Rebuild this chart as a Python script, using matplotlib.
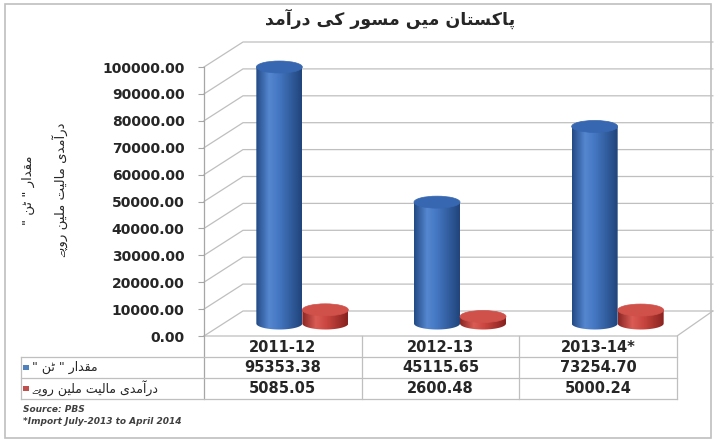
import matplotlib
matplotlib.use("Agg")
import matplotlib.pyplot as plt
from matplotlib import font_manager
from matplotlib.ft2font import FT2Font
from matplotlib.patches import Ellipse, PathPatch, Rectangle
from matplotlib.path import Path
from matplotlib.colors import LinearSegmentedColormap
from matplotlib.ticker import FormatStrFormatter
import numpy as np

# ---------------------------------------------------------------- data
categories = ["2011-12", "2012-13", "2013-14*"]
quantity_tonnes = [95353.38, 45115.65, 73254.70]
value_mn_rs = [5085.05, 2600.48, 5000.24]
y_ticks = [0, 10000, 20000, 30000, 40000, 50000, 60000, 70000, 80000, 90000, 100000]

title_text = "پاکستان میں مسور کی درآمد"
series_names = ['مقدار " ٹن "', "درآمدی مالیت ملین روپے"]
source_note = "Source: PBS"
footnote = "*Import July-2013 to April 2014"


# ------------------------------------------------ fonts for Urdu text
def families_with(codepoints):
    """Installed families whose charmap contains all given code points."""
    found = []
    for f in font_manager.fontManager.ttflist:
        if f.name in found:
            continue
        try:
            cmap = FT2Font(f.fname).get_charmap()
        except Exception:
            continue
        if all(cp in cmap for cp in codepoints):
            found.append(f.name)
    return found


bari_ye_fams = families_with([0x06D2])
bari_ye_final_fams = families_with([0x06D2, 0xFBAF])
URDU_FAMILIES = ["DejaVu Sans"] + [f for f in bari_ye_final_fams + bari_ye_fams
                                   if f != "DejaVu Sans"]
BARI_YE_FINAL = "\uFBAF" if bari_ye_final_fams else "\u06D2"

# presentation forms: (isolated, final, initial, medial)
FORMS = {
    "\u0627": ("\uFE8D", "\uFE8E", None, None),
    "\u0622": ("\uFE81", "\uFE82", None, None),
    "\u062F": ("\uFEA9", "\uFEAA", None, None),
    "\u0631": ("\uFEAD", "\uFEAE", None, None),
    "\u0648": ("\uFEED", "\uFEEE", None, None),
    "\u06D2": ("\u06D2", BARI_YE_FINAL, None, None),
    "\u06BA": ("\uFB9E", "\uFB9F", None, None),
    "\u0633": ("\uFEB1", "\uFEB2", "\uFEB3", "\uFEB4"),
    "\u062A": ("\uFE95", "\uFE96", "\uFE97", "\uFE98"),
    "\u0646": ("\uFEE5", "\uFEE6", "\uFEE7", "\uFEE8"),
    "\u0645": ("\uFEE1", "\uFEE2", "\uFEE3", "\uFEE4"),
    "\u0642": ("\uFED5", "\uFED6", "\uFED7", "\uFED8"),
    "\u0644": ("\uFEDD", "\uFEDE", "\uFEDF", "\uFEE0"),
    "\u067E": ("\uFB56", "\uFB57", "\uFB58", "\uFB59"),
    "\u0679": ("\uFB66", "\uFB67", "\uFB68", "\uFB69"),
    "\u06A9": ("\uFB8E", "\uFB8F", "\uFB90", "\uFB91"),
    "\u06CC": ("\uFBFC", "\uFBFD", "\uFBFE", "\uFBFF"),
}


def urdu(text):
    """Join letters into contextual forms and order them for LTR drawing."""
    out = []
    for i, ch in enumerate(text):
        if ch not in FORMS:
            out.append(ch)
            continue
        prev = text[i - 1] if i > 0 else ""
        nxt = text[i + 1] if i + 1 < len(text) else ""
        joins_prev = prev in FORMS and FORMS[prev][2] is not None
        joins_next = FORMS[ch][2] is not None and nxt in FORMS
        iso, fin, ini, med = FORMS[ch]
        if joins_prev and joins_next:
            out.append(med)
        elif joins_prev:
            out.append(fin)
        elif joins_next:
            out.append(ini)
        else:
            out.append(iso)
    return "".join(reversed(out))


# ---------------------------------------------------------- geometry
W, H = 715, 443
X0, X1 = 204, 677          # front plane, pixels
YB, YT = 336, 67           # value 0 and 100000 on the front plane
DX, DY = 39, 25            # depth of the 3-D box, pixels
fig = plt.figure(figsize=(W / 100, H / 100), dpi=100)
fig.patch.set_facecolor("white")

ax = fig.add_axes([X0 / W, 1 - YB / H, (X1 - X0) / W, (YB - YT) / H])
ax.patch.set_visible(False)
for s in ax.spines.values():
    s.set_visible(False)

ux = (X1 - X0) / 3.0        # pixels per category
uy = (YB - YT) / 100000.0   # pixels per unit value
dxd, dyd = DX / ux, DY / uy

grid_c = "#BFBFBF"
for v in y_ticks:
    ax.plot([-0.5, -0.5 + dxd, 2.5 + dxd - 0.02], [v, v + dyd, v + dyd],
            color=grid_c, lw=0.9, clip_on=False, zorder=1)
# floor edges
ax.plot([-0.5, 2.5, 2.5 + dxd - 0.02], [0, 0, dyd], color=grid_c, lw=0.9,
        clip_on=False, zorder=1)
# front vertical axis, continuing down through the table
tab_bottom = -(399 - YB) / uy
ax.plot([-0.5, -0.5], [tab_bottom, 100000], color="#A6A6A6", lw=0.9,
        clip_on=False, zorder=2)

# ------------------------------------------------------- cylinders
blue_cmap = LinearSegmentedColormap.from_list(
    "b", [(0, "#234A85"), (0.28, "#5587D0"), (0.5, "#4477C2"), (1, "#21457C")])
red_cmap = LinearSegmentedColormap.from_list(
    "r", [(0, "#8A2724"), (0.3, "#DA5C55"), (0.55, "#C9453F"), (1, "#86221F")])

bar_w = 46 / ux
off = 23 / ux
ell_h = 12 / uy
shift_x = dxd / 2
base = dyd / 2


def cylinder(xc, value, cmap, top_color, z):
    a, b = bar_w / 2, ell_h / 2
    top = base + value
    t = np.linspace(np.pi, 2 * np.pi, 40)
    verts = [(xc + a * np.cos(tt), base + b * np.sin(tt)) for tt in t]
    verts += [(xc + a, top), (xc - a, top), verts[0]]
    codes = [Path.MOVETO] + [Path.LINETO] * (len(verts) - 2) + [Path.CLOSEPOLY]
    body = PathPatch(Path(verts, codes), facecolor="none", edgecolor="none",
                     zorder=z, clip_on=False)
    ax.add_patch(body)
    grad = np.linspace(0, 1, 64)[np.newaxis, :]
    im = ax.imshow(grad, cmap=cmap, extent=(xc - a, xc + a, base - b, top),
                   aspect="auto", zorder=z, interpolation="bilinear")
    im.set_clip_box(fig.bbox)
    im.set_clip_path(body)
    ax.add_patch(Ellipse((xc, top), 2 * a, 2 * b, facecolor=top_color,
                         edgecolor=top_color, lw=0.5, zorder=z + 0.1,
                         clip_on=False))


for i, (q, v) in enumerate(zip(quantity_tonnes, value_mn_rs)):
    cylinder(i + shift_x - off, q, blue_cmap, "#3767B0", 3 + i)
    cylinder(i + shift_x + off, v, red_cmap, "#D0504A", 3.5 + i)

ax.set_xlim(-0.5, 2.5)
ax.set_ylim(0, 100000)
ax.set_xticks([])
ax.set_yticks(y_ticks)
ax.yaxis.set_major_formatter(FormatStrFormatter("%.2f"))
ax.tick_params(axis="y", length=4, width=0.8, color="#A6A6A6", pad=10,
               labelsize=10, labelcolor="#262626")
for lab in ax.get_yticklabels():
    lab.set_fontweight("bold")

# ----------------------------------------------------------- table
tax = fig.add_axes([21 / W, 1 - 399 / H, (X1 - 21) / W, 63 / H])
tax.set_xlim(-0.5 - (X0 - 21) / ux, 2.5)
tax.set_ylim(3, 0)
tax.axis("off")
line_c = "#BFBFBF"
for xv in [0.5, 1.5, 2.5]:
    tax.plot([xv, xv], [0, 3], color=line_c, lw=0.9, clip_on=False)
xl = -0.5 - (X0 - 21) / ux
tax.plot([xl, xl], [1, 3], color=line_c, lw=0.9, clip_on=False)
for yv in [1, 2, 3]:
    tax.plot([xl, 2.5], [yv, yv], color=line_c, lw=0.9, clip_on=False)
for i, c in enumerate(categories):
    tax.text(i, 0.55, c, ha="center", va="center", fontsize=10.5,
             fontweight="bold", color="#262626")
    tax.text(i, 1.5, f"{quantity_tonnes[i]:.2f}", ha="center", va="center",
             fontsize=10.5, fontweight="bold", color="#262626")
    tax.text(i, 2.5, f"{value_mn_rs[i]:.2f}", ha="center", va="center",
             fontsize=10.5, fontweight="bold", color="#262626")

key_w = 6 / ux
for r, (name, col) in enumerate(zip(series_names, ["#4F81BD", "#C0504D"])):
    kx = xl + 1.5 / ux
    tax.add_patch(Rectangle((kx, r + 1.5 - 0.14), key_w, 0.28, facecolor=col,
                            edgecolor="none", clip_on=False))
    tax.text(kx + key_w + 3 / ux, r + 1.5, urdu(name), ha="left",
             va="center", fontsize=9, color="#262626", family=URDU_FAMILIES)

# ------------------------------------------------------------ texts
fig.text(390 / W, 1 - 19 / H, urdu(title_text), ha="center", va="center",
         fontsize=12.5, fontweight="bold", color="#262626",
         family=URDU_FAMILIES)
fig.text(45 / W, 1 - 190 / H,
         urdu(series_names[0]) + "\n" + urdu(series_names[1]),
         rotation=90, ha="center", va="center", multialignment="center",
         fontsize=9.5, color="#262626", family=URDU_FAMILIES, linespacing=2.3)
fig.text(23 / W, 1 - 409 / H, source_note, fontsize=6.5, style="italic",
         fontweight="bold", color="#404040", va="center")
fig.text(23 / W, 1 - 422 / H, footnote, fontsize=6.5, style="italic",
         fontweight="bold", color="#404040", va="center")

# outer chart frame
frame = Rectangle((5 / W, 1 - 438 / H), 706 / W, 434 / H,
                  transform=fig.transFigure, facecolor="none",
                  edgecolor="#BFBFBF", lw=1.2)
fig.patches.append(frame)

fig.savefig("out.png", dpi=100, facecolor="white")
